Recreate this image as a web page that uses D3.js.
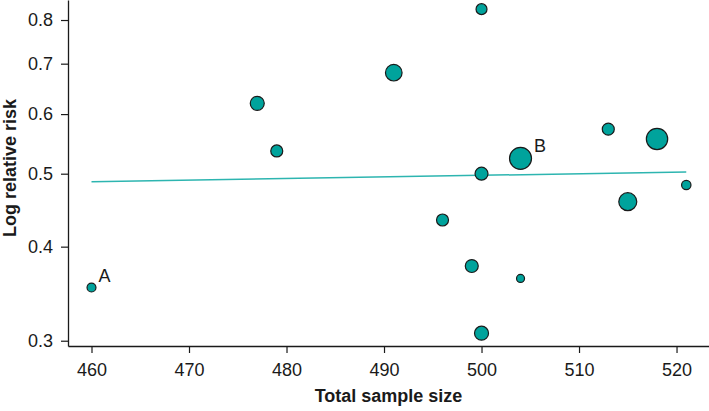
<!DOCTYPE html>
<html>
<head>
<meta charset="utf-8">
<script src="https://cdn.jsdelivr.net/npm/d3@7"></script>
<style>
  html, body { margin: 0; padding: 0; background: #fff; }
  svg { display: block; font-family: "Liberation Sans", Arial, Helvetica, sans-serif; }
</style>
</head>
<body>
<svg id="chart" width="709" height="411"></svg>
<script>
// ---- data ----
const sampleSize = [460, 477, 479, 491, 496, 499, 500, 500, 500, 504, 504, 513, 515, 518, 521];
const logRR      = [0.353, 0.620, 0.536, 0.681, 0.434, 0.377, 0.827, 0.500, 0.307, 0.524, 0.363, 0.573, 0.459, 0.556, 0.483];
const weight     = [20, 49, 36, 69, 36, 42, 30, 42, 49, 121, 16, 36, 81, 114, 22];
const pointLabel = ["A", "", "", "", "", "", "", "", "", "B", "", "", "", "", ""];
const fitX = [460, 521];
const fitY = [0.488, 0.5026];
const xTicks = [460, 470, 480, 490, 500, 510, 520];
const yTicks = [0.3, 0.4, 0.5, 0.6, 0.7, 0.8];
const xTitle = "Total sample size";
const yTitle = "Log relative risk";

(function () {
const svg = d3.select("#chart");
const mL = 68, mB = 346, mT = 0, mR = 709;
const font = "'Liberation Sans', Arial, Helvetica, sans-serif";

const x = d3.scaleLinear().domain([457.59, 523.33]).range([mL, mR]);
const y = d3.scaleLog().domain([0.2952, 0.8505]).range([mB, mT]);
const r = d3.scaleSqrt().domain([0, 121]).range([0, 11]);

const ink = "#1a1a1a";

// axes
const xAxis = svg.append("g").attr("transform", `translate(0,${mB})`)
  .call(d3.axisBottom(x).tickValues(xTicks).tickSize(7).tickSizeOuter(0).tickPadding(10).tickFormat(d3.format("d")));
const yAxis = svg.append("g").attr("transform", `translate(${mL},0)`)
  .call(d3.axisLeft(y).tickValues(yTicks).tickSize(7).tickSizeOuter(0).tickPadding(8).tickFormat(d3.format(".1f")));
[xAxis, yAxis].forEach(g => {
  g.select(".domain").attr("stroke", ink).attr("stroke-width", 1.3);
  g.selectAll(".tick line").attr("stroke", ink).attr("stroke-width", 1.2);
  g.selectAll(".tick text").attr("fill", ink).style("font-size", "18px").style("font-family", font);
});

// regression line
svg.append("line")
  .attr("x1", x(fitX[0])).attr("y1", y(fitY[0]))
  .attr("x2", x(fitX[1])).attr("y2", y(fitY[1]))
  .attr("stroke", "#2db5b0").attr("stroke-width", 1.5);

// points
const pts = sampleSize.map((s, i) => ({ s, v: logRR[i], w: weight[i], lab: pointLabel[i] }));
svg.append("g").selectAll("circle").data(pts).join("circle")
  .attr("cx", d => x(d.s)).attr("cy", d => y(d.v)).attr("r", d => r(d.w))
  .attr("fill", "#00a39c").attr("stroke", ink).attr("stroke-width", 1.2);

// point labels
svg.append("g").selectAll("text").data(pts.filter(d => d.lab)).join("text")
  .attr("x", d => x(d.s) + r(d.w) + 2.5)
  .attr("y", d => y(d.v) - 6)
  .attr("fill", ink).style("font-size", "18px")
  .text(d => d.lab);

// titles
svg.append("text").attr("x", (mL + mR) / 2).attr("y", 402)
  .attr("text-anchor", "middle").attr("fill", ink)
  .style("font-size", "18px").style("font-weight", "bold").text(xTitle);
svg.append("text").attr("transform", `translate(16,168) rotate(-90)`)
  .attr("text-anchor", "middle").attr("fill", ink)
  .style("font-size", "18px").style("font-weight", "bold").text(yTitle);
})();
</script>
</body>
</html>
